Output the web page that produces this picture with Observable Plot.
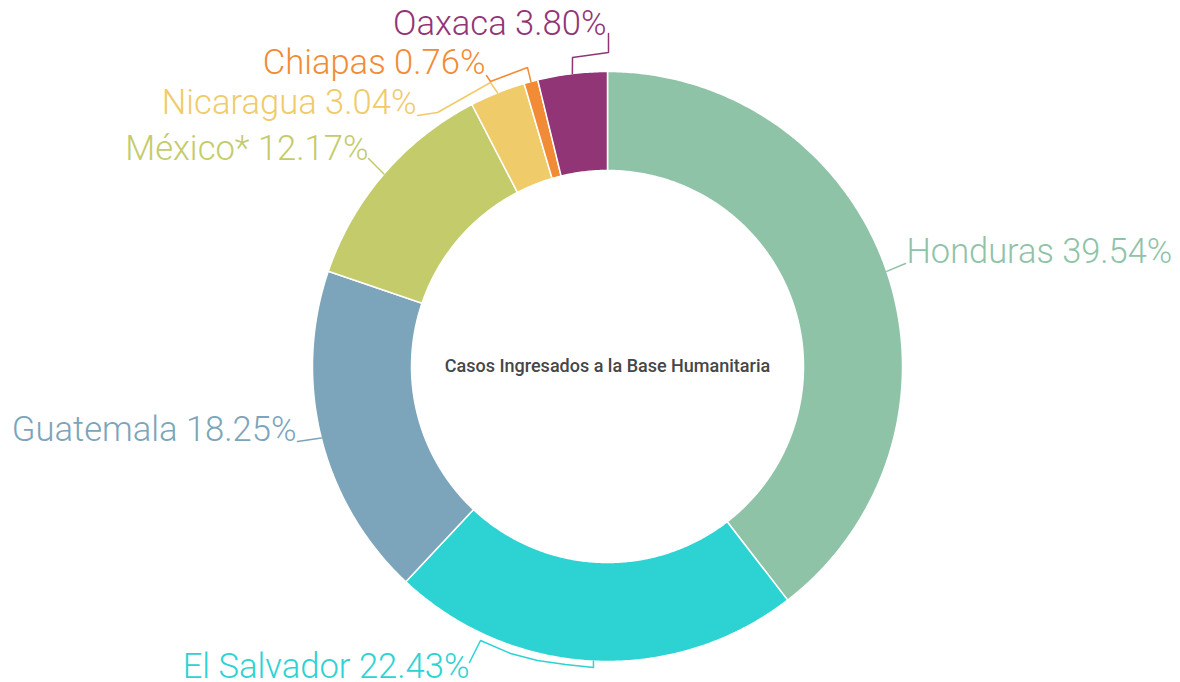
<!DOCTYPE html>
<html>
<head>
<meta charset="utf-8">
<script src="https://cdn.jsdelivr.net/npm/d3@7"></script>
<script src="https://cdn.jsdelivr.net/npm/@observablehq/plot@0.6"></script>
<style>
  html, body { margin: 0; padding: 0; background: #fff; }
  #chart { width: 1180px; height: 682px; }
</style>
</head>
<body>
<div id="chart"></div>
<script>
// ---- data ----
const categories = ["Honduras", "El Salvador", "Guatemala", "México*", "Nicaragua", "Chiapas", "Oaxaca"];
const percents   = [39.54, 22.43, 18.25, 12.17, 3.04, 0.76, 3.80];
const colors     = ["#8fc3a8", "#2dd3d3", "#7ca4ba", "#c4cb6b", "#f0cb6a", "#f28b36", "#923576"];
const centerTitle = "Casos Ingresados a la Base Humanitaria";

// ---- layout ----
const W = 1180, H = 682;
const CX = 607, CY = 366, R_OUT = 295, R_IN = 196;
const labelPos = [
  {x: 906, y: 251, anchor: "start"},
  {x: 469, y: 666, anchor: "end"},
  {x: 296, y: 429, anchor: "end"},
  {x: 368, y: 148, anchor: "end"},
  {x: 416, y: 102, anchor: "end"},
  {x: 485, y: 62,  anchor: "end"},
  {x: 606, y: 23,  anchor: "end"}
];
const leaderElbows = [
  [[905, 263]],
  [[593, 667], [565, 664], [537, 660], [510, 653], [480, 640], [469, 662]],
  [[297, 441]],
  [[368, 158]],
  [[490, 82], [437, 112], [417, 115]],
  [[527, 67], [490, 81], [486, 75]],
  [[572, 57], [608, 52], [608, 33]]
];

// ---- derived geometry from data ----
const total = d3.sum(percents);
const pie = d3.pie().sort(null).value(d => d)(percents);
const pt = (a, r) => [CX + r * Math.sin(a), CY - r * Math.cos(a)];

const sliceRows = [];
pie.forEach((p, i) => {
  const n = Math.max(4, Math.ceil((p.endAngle - p.startAngle) / (Math.PI / 180) * 2));
  for (let k = 0; k <= n; k++) {
    const a = p.startAngle + (p.endAngle - p.startAngle) * k / n;
    const [x, y] = pt(a, R_OUT);
    sliceRows.push({cat: categories[i], x, y});
  }
  for (let k = n; k >= 0; k--) {
    const a = p.startAngle + (p.endAngle - p.startAngle) * k / n;
    const [x, y] = pt(a, R_IN);
    sliceRows.push({cat: categories[i], x, y});
  }
  const [x0, y0] = pt(p.startAngle, R_OUT);
  sliceRows.push({cat: categories[i], x: x0, y: y0});
});

const leaderRows = [];
pie.forEach((p, i) => {
  const mid = (p.startAngle + p.endAngle) / 2;
  const [sx, sy] = pt(mid, R_OUT);
  leaderRows.push({cat: categories[i], x: sx, y: sy});
  leaderElbows[i].forEach(([x, y]) => leaderRows.push({cat: categories[i], x, y}));
});

const labelRows = categories.map((c, i) => ({
  cat: c,
  text: `${c} ${(percents[i] / total * 100).toFixed(2)}%`,
  x: labelPos[i].x, y: labelPos[i].y, anchor: labelPos[i].anchor
}));

const chart = Plot.plot({
  width: W,
  height: H,
  margin: 0,
  style: {fontFamily: "Roboto, sans-serif", background: "#fff", overflow: "visible"},
  x: {type: "linear", domain: [0, W], range: [0, W], axis: null},
  y: {type: "linear", domain: [0, H], range: [0, H], axis: null},
  color: {domain: categories, range: colors},
  marks: [
    Plot.line(sliceRows, {x: "x", y: "y", z: "cat", fill: "cat", stroke: "#ffffff", strokeWidth: 1.5, strokeLinejoin: "round", curve: "linear"}),
    Plot.line(leaderRows, {x: "x", y: "y", z: "cat", stroke: "cat", strokeWidth: 1.5, curve: "linear"}),
    Plot.text(labelRows.filter(d => d.anchor === "start"), {x: "x", y: "y", text: "text", fill: "cat", textAnchor: "start", lineAnchor: "middle", fontSize: 34.4, fontWeight: 300}),
    Plot.text(labelRows.filter(d => d.anchor === "end"), {x: "x", y: "y", text: "text", fill: "cat", textAnchor: "end", lineAnchor: "middle", fontSize: 34.6, fontWeight: 300}),
    Plot.text([centerTitle], {x: () => CX, y: () => CY, text: d => d, fill: "#464646", fontSize: 18, fontWeight: 500, textAnchor: "middle", lineAnchor: "middle"})
  ]
});
document.getElementById("chart").appendChild(chart);
</script>
</body>
</html>
